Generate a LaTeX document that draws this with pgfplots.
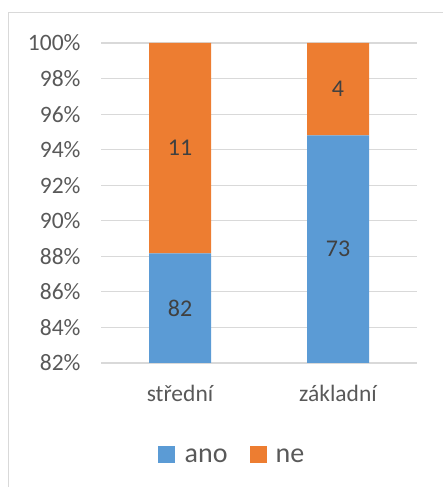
\documentclass[border=0pt]{standalone}
\usepackage{pgfplots}
\pgfplotsset{compat=1.18}
\usepackage{fontspec}
\setmainfont{Carlito}
\definecolor{cblue}{HTML}{5B9BD5}
\definecolor{corange}{HTML}{ED7D31}
\definecolor{gridc}{HTML}{D9D9D9}
\definecolor{tickc}{HTML}{595959}
\definecolor{labc}{HTML}{404040}
\begin{document}
\begin{tikzpicture}
\useasboundingbox (0,0) rectangle (443pt,487pt);
\clip (0,0) rectangle (443pt,487pt);
\draw[gridc, line width=1pt] (8.5pt,474pt) rectangle (470pt,-20pt);
\begin{axis}[at={(101pt,124pt)}, anchor=south west, scale only axis,
  width=316pt, height=320pt,
  xmin=-0.5, xmax=1.5, ymin=82, ymax=100,
  ybar stacked, bar width=62pt,
  axis line style={draw=none}, tick style={draw=none},
  ymajorgrids, grid style={gridc, line width=1.2pt},
  xtick={0,1}, xticklabels={střední,základní},
  ytick={82,84,...,100},
  yticklabels={82\%,84\%,86\%,88\%,90\%,92\%,94\%,96\%,98\%,100\%},
  xticklabel style={font=\fontsize{23.5}{27}\selectfont, text=tickc, yshift=-19pt},
  yticklabel style={font=\fontsize{23.5}{27}\selectfont, text=tickc, xshift=-17pt},
  legend style={at={(0.4146,-0.29)}, anchor=center, draw=none, fill=none,
    legend columns=-1, font=\fontsize{28}{32}\selectfont, text=tickc,
    /tikz/every even column/.append style={column sep=20pt}},
]
\addplot[fill=cblue, draw=none, legend image code/.code={\fill[cblue] (0pt,-7pt) rectangle (17pt,10pt); \path (25pt,0pt);}] coordinates {(0,88.172) (1,94.805)};
\addlegendentry{ano}
\addplot[fill=corange, draw=none, legend image code/.code={\fill[corange] (0pt,-7pt) rectangle (17pt,10pt); \path (24pt,0pt);}] coordinates {(0,11.828) (1,5.195)};
\addlegendentry{ne}
\end{axis}
\begin{axis}[at={(101pt,124pt)}, anchor=south west, scale only axis,
  width=316pt, height=320pt,
  xmin=-0.5, xmax=1.5, ymin=82, ymax=100, hide axis]
\addplot[only marks, mark=none, nodes near coords, point meta=explicit symbolic,
  nodes near coords style={anchor=center, font=\fontsize{24}{28}\selectfont, text=labc}]
  table[meta=lab]{
x y lab
0 85.09 82
0 94.09 11
1 88.40 73
1 97.40 4
};
\end{axis}
\end{tikzpicture}
\end{document}
